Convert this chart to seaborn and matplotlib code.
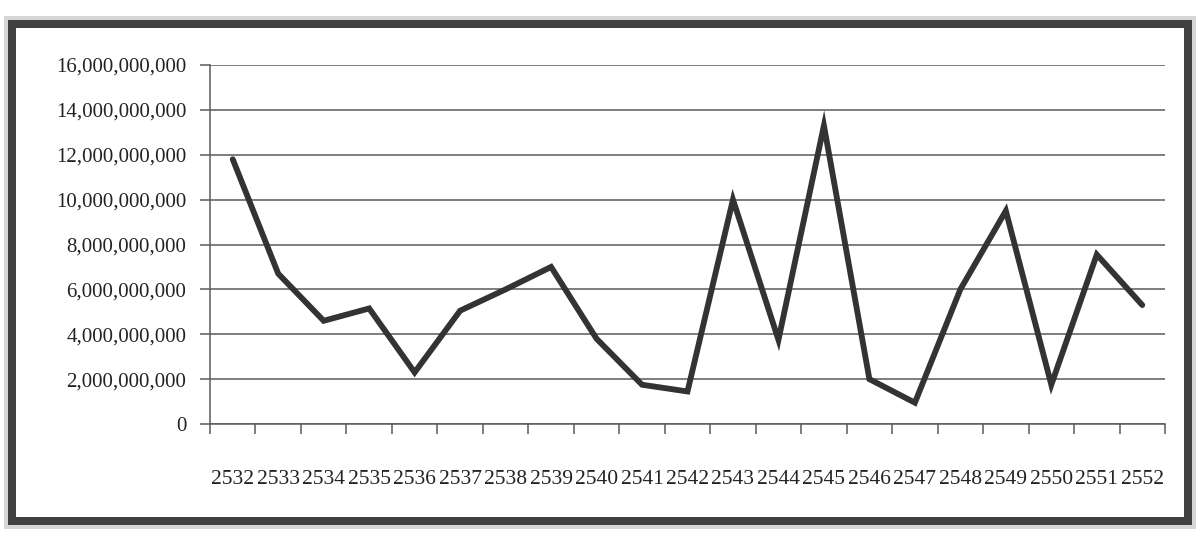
import matplotlib
matplotlib.use("Agg")
import matplotlib.pyplot as plt
import seaborn as sns
import pandas as pd
import numpy as np
from matplotlib.ticker import FuncFormatter
from matplotlib.patches import Rectangle

# ---- data ----
years = [2532, 2533, 2534, 2535, 2536, 2537, 2538, 2539, 2540, 2541, 2542,
         2543, 2544, 2545, 2546, 2547, 2548, 2549, 2550, 2551, 2552]
values_billion = [11.8, 6.7, 4.6, 5.15, 2.3, 5.05, 6.0, 7.0, 3.8, 1.75, 1.45,
                  10.0, 3.75, 13.3, 2.0, 0.95, 6.0, 9.5, 1.75, 7.55, 5.3]
y_ticks = [0, 2e9, 4e9, 6e9, 8e9, 10e9, 12e9, 14e9, 16e9]
x_labels = [str(y) for y in years]

sns.set_theme(style="white")
plt.rcParams['font.family'] = ['Liberation Serif', 'DejaVu Serif']

W, H = 1198, 538
fig = plt.figure(figsize=(W / 100, H / 100), dpi=100)
fig.patch.set_facecolor("white")

# scanned frame: soft shadow then solid dark border
fig.add_artist(Rectangle((10 / W, 1 - 523 / H), (1190 - 10) / W, (523 - 22) / H,
                         transform=fig.transFigure, fill=False,
                         edgecolor="#8a8a8a", linewidth=12 * 0.72, alpha=0.35,
                         joinstyle="miter"))
fig.add_artist(Rectangle((12 / W, 1 - 521 / H), (1188 - 12) / W, (521 - 24) / H,
                         transform=fig.transFigure, fill=False,
                         edgecolor="#404040", linewidth=8 * 0.72,
                         joinstyle="miter"))

left, right, top, bottom = 210, 1165, 65, 424
ax = fig.add_axes([left / W, 1 - bottom / H, (right - left) / W, (bottom - top) / H])
ax.set_facecolor("white")

df = pd.DataFrame({"year": years, "value": [v * 1e9 for v in values_billion]})
sns.lineplot(data=df, x="year", y="value", ax=ax, color="#333333",
             linewidth=4.2, solid_joinstyle="miter", zorder=3)

ax.set_xlim(years[0] - 0.5, years[-1] + 0.5)
ax.set_ylim(0, 16e9)
ax.set_yticks(y_ticks)
ax.yaxis.set_major_formatter(FuncFormatter(lambda v, p: f"{int(round(v)):,}"))
ax.grid(axis="y", color="#5a5a5a", linewidth=1.1)
ax.grid(axis="x", visible=False)

ax.set_xticks(years)
ax.set_xticklabels(x_labels)
ax.set_xticks(np.arange(years[0] - 0.5, years[-1] + 1, 1), minor=True)
ax.tick_params(axis="x", which="major", length=0, pad=33, labelsize=15.5,
               labelcolor="#222222")
ax.tick_params(axis="x", which="minor", length=7, width=1.1, color="#5a5a5a",
               direction="out", bottom=True)
ax.tick_params(axis="y", length=7, width=1.1, color="#5a5a5a", direction="out",
               labelsize=15, pad=10, labelcolor="#222222", left=True)

for s in ["top", "right"]:
    ax.spines[s].set_visible(False)
for s in ["left", "bottom"]:
    ax.spines[s].set_color("#5a5a5a")
    ax.spines[s].set_linewidth(1.1)

ax.set_xlabel("")
ax.set_ylabel("")

fig.savefig("out.png", dpi=100, facecolor="white")
